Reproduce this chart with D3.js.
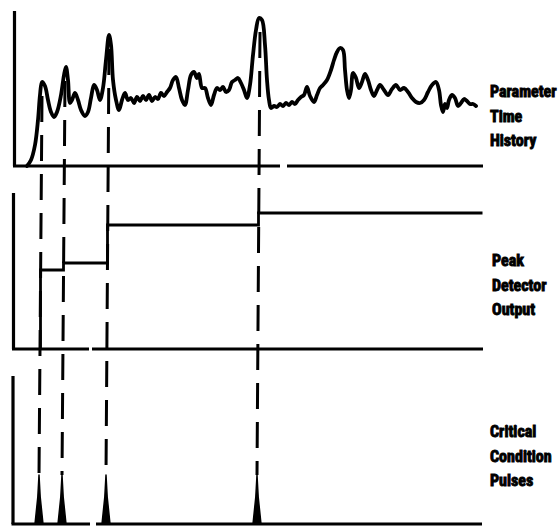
<!DOCTYPE html>
<html>
<head>
<meta charset="utf-8">
<script src="https://cdn.jsdelivr.net/npm/d3@7"></script>
<style>
  html, body { margin: 0; padding: 0; background: #fff; }
  svg { display: block; }
  .label { font-family: "Liberation Sans Narrow", "Arial Narrow", "Roboto Condensed", sans-serif; font-weight: bold; font-size: 16px; fill: #000; stroke: #000; stroke-width: 0.9px; }
</style>
</head>
<body>
<svg id="chart" width="560" height="527"></svg>
<script>
// Parameter time history: sample time and parameter amplitude
const paramTime = [11,15,19,22,24,26,29,32,35,38,41,45,48,50,52,54,56,59,62,65,69,72,75,78,81,84,87,90,93,95,97,100,103,106,109,112,115,118,121,124,127,130,133,136,139,142,145,148,151,154,157,160,163,166,169,172,175,178,181,183,186,189,192,195,198,201,204,207,210,213,216,219,222,225,228,231,234,237,240,243,246,249,251,253,255,258,261,264,267,270,273,276,279,282,285,288,291,294,298,301,304,307,311,315,318,321,324,327,329,331,333,335,337,340,343,346,349,352,355,358,361,364,368,372,376,380,384,388,392,396,400,404,408,412,416,420,423,425,427,429,431,433,436,439,442,445,448,451,454,457,460,462];
const paramValue = [0,6,21,46,71,84,80,66,54,49,54,71,91,99,86,63,66,73,66,56,50,54,68,81,76,66,78,106,131,121,86,66,56,66,73,66,68,63,69,65,70,66,71,65,69,67,73,70,74,78,86,89,78,66,61,76,91,94,88,92,78,78,68,61,71,78,76,79,74,76,84,86,88,83,76,68,81,111,136,148,146,121,86,66,58,60,59,62,60,63,61,64,62,66,69,71,79,70,64,71,78,81,86,96,106,114,118,116,96,76,68,76,93,88,78,84,92,86,76,70,76,81,76,71,77,81,76,78,74,68,64,63,66,74,81,84,76,61,54,62,58,66,71,68,60,63,67,65,62,62,60];

// Peak detector output: times at which a new peak is latched, and the held level
const peakTimes = [26, 49, 93, 244];
const peakLevels = [79, 86, 124, 136];
const heldUntil = 468;

// Critical condition pulses: amplitude and half-width (time units)
const pulseHeight = 49;
const pulseHalfWidth = 4;

// Parameter value at each detected peak (where the guide lines start)
const peakParamValues = [84, 99, 131, 148];

// Panel captions
const labelsParam = ["Parameter", "Time", "History"];
const labelsDetector = ["Peak", "Detector", "Output"];
const labelsPulses = ["Critical", "Condition", "Pulses"];

const svg = d3.select("#chart");

// Scales: a common time axis; each trace sits slightly offset on the recorder paper
const xTop = d3.scaleLinear().domain([0, 470]).range([16, 486]);
const xMid = d3.scaleLinear().domain([0, 470]).range([14.5, 484.5]);
const xBot = d3.scaleLinear().domain([0, 470]).range([13, 483]);

const yTop = d3.scaleLinear().domain([0, 155]).range([166, 11]);
const yMid = d3.scaleLinear().domain([0, 156]).range([349, 193]);
const yBot = d3.scaleLinear().domain([0, 148]).range([524, 376]);

const ink = "#000";

// Panel frames: a vertical axis and a baseline (with the small breaks in the paper trace)
function frame(x0, yTopPx, yBase, xEnd, gap) {
  const g = svg.append("g");
  g.append("line").attr("x1", x0).attr("x2", x0).attr("y1", yTopPx).attr("y2", yBase)
    .attr("stroke", ink).attr("stroke-width", 3.2);
  g.append("line").attr("x1", x0 - 1.5).attr("x2", gap[0]).attr("y1", yBase).attr("y2", yBase)
    .attr("stroke", ink).attr("stroke-width", 3.2);
  g.append("line").attr("x1", gap[1]).attr("x2", xEnd).attr("y1", yBase).attr("y2", yBase)
    .attr("stroke", ink).attr("stroke-width", 3.2);
}
frame(14.5, yTop.range()[1], yTop(0), 483, [280, 287]);
frame(13.5, yMid.range()[1], yMid(0), 483, [89, 92]);
frame(13, yBot.range()[1], yBot(0), 482, [90, 96]);

// Dashed guide lines linking each peak down to its pulse
svg.append("g").selectAll("line")
  .data(peakTimes)
  .join("line")
  .attr("x1", (t) => xTop(t))
  .attr("y1", (t, i) => yTop(peakParamValues[i]) + 14)
  .attr("x2", (t) => xBot(t))
  .attr("y2", yBot(pulseHeight))
  .attr("stroke", ink)
  .attr("stroke-width", 3)
  .attr("stroke-dasharray", "26,13");

// Parameter time history trace
const paramPts = paramTime.map((t, i) => [t, paramValue[i]]);
svg.append("path")
  .datum(paramPts)
  .attr("fill", "none")
  .attr("stroke", ink)
  .attr("stroke-width", 3.8)
  .attr("stroke-linejoin", "round")
  .attr("stroke-linecap", "round")
  .attr("d", d3.line().x((d) => xTop(d[0])).y((d) => yTop(d[1])).curve(d3.curveCatmullRom.alpha(0.5)));

// Peak detector staircase
const stepPts = [[peakTimes[0], 0]]
  .concat(peakTimes.map((t, i) => [t, peakLevels[i]]))
  .concat([[heldUntil, peakLevels[peakLevels.length - 1]]]);
svg.append("path")
  .datum(stepPts)
  .attr("fill", "none")
  .attr("stroke", ink)
  .attr("stroke-width", 2.8)
  .attr("d", d3.line().x((d) => xMid(d[0])).y((d) => yMid(d[1])).curve(d3.curveStepAfter));

// Critical condition pulses
const pulseArea = d3.area()
  .x((d) => xBot(d[0]))
  .y0(yBot(0))
  .y1((d) => yBot(d[1]))
  .curve(d3.curveLinear);
svg.append("g").selectAll("path")
  .data(peakTimes)
  .join("path")
  .attr("fill", ink)
  .attr("stroke", ink)
  .attr("stroke-width", 1.5)
  .attr("stroke-linejoin", "round")
  .attr("d", (t) => pulseArea([[t - pulseHalfWidth, 0], [t - 1.2, pulseHeight * 0.55], [t, pulseHeight], [t + 1.2, pulseHeight * 0.55], [t + pulseHalfWidth, 0]]));

// Captions
function caption(lines, x, y0) {
  svg.append("g").selectAll("text")
    .data(lines)
    .join("text")
    .attr("class", "label")
    .attr("x", x)
    .attr("y", (d, i) => y0 + i * 24.5)
    .text((d) => d);
}
caption(labelsParam, 490, 97);
caption(labelsDetector, 492, 266);
caption(labelsPulses, 490, 437);
</script>
</body>
</html>
